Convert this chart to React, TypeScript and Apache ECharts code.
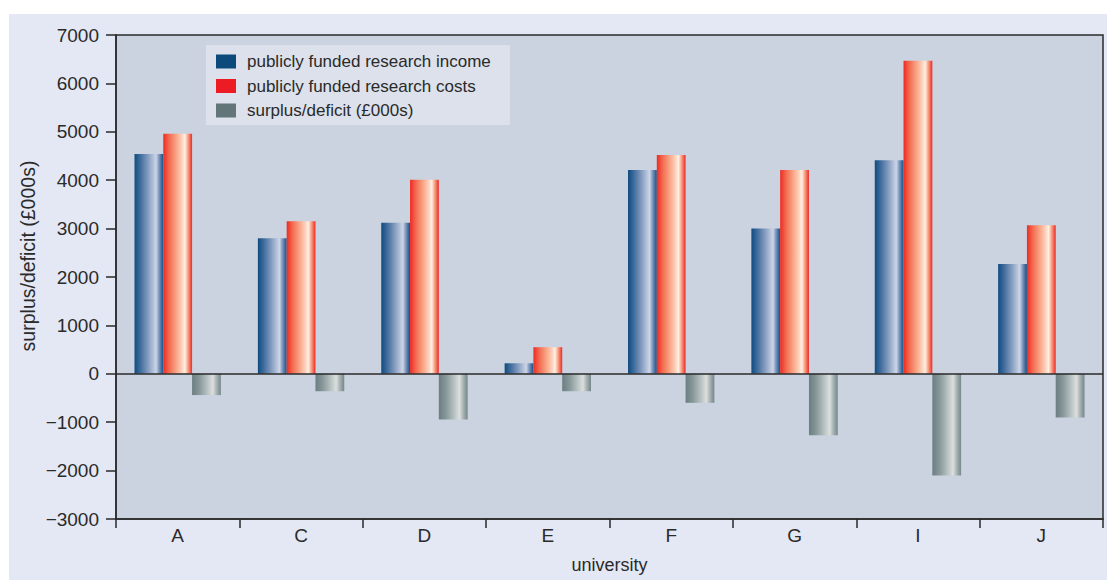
import React, { useEffect, useRef } from "react";
import * as echarts from "echarts";

const universities = ["A", "C", "D", "E", "F", "G", "I", "J"];
const researchIncome = [4540, 2800, 3120, 220, 4210, 3000, 4410, 2270];
const researchCosts = [4960, 3150, 4010, 550, 4520, 4210, 6470, 3070];
const surplusDeficit = [-440, -360, -945, -360, -600, -1270, -2100, -905];
const seriesNames = [
  "publicly funded research income",
  "publicly funded research costs",
  "surplus/deficit (£000s)",
];

const FONT = "'Liberation Sans', Arial, sans-serif";
const TEXT = "#2a2a2a";

const grad = (stops: [number, string][]) =>
  new echarts.graphic.LinearGradient(
    0, 0, 1, 0,
    stops.map(([offset, color]) => ({ offset, color }))
  );

const blueGrad = () =>
  grad([
    [0, "#0f4c80"],
    [0.2, "#3f6b9c"],
    [0.45, "#7f98bd"],
    [0.65, "#b3c1d9"],
    [0.75, "#cdd5e6"],
    [0.85, "#7d97be"],
    [1, "#134f86"],
  ]);
const redGrad = () =>
  grad([
    [0, "#ee2a22"],
    [0.2, "#f36a50"],
    [0.45, "#f9a585"],
    [0.65, "#fdd2bd"],
    [0.75, "#fff0e6"],
    [0.85, "#f9a688"],
    [1, "#ec2a26"],
  ]);
const grayGrad = () =>
  grad([
    [0, "#6b7e81"],
    [0.25, "#87979a"],
    [0.5, "#b2bdbd"],
    [0.72, "#dcdfde"],
    [0.85, "#a7b2b2"],
    [1, "#74878a"],
  ]);

const legendColors = ["#0c4a7c", "#ed1c24", "#62767a"];

export default function App() {
  const ref = useRef<HTMLDivElement>(null);

  useEffect(() => {
    if (!ref.current) return;
    const chart = echarts.init(ref.current, undefined, { renderer: "svg" });
    const minus = (v: number) => String(v).replace("-", "\u2212");

    chart.setOption({
      animation: false,
      textStyle: { fontFamily: FONT },
      grid: {
        left: 116,
        top: 35,
        right: 4,
        bottom: 61,
        show: true,
        backgroundColor: "#cbd3e0",
        borderColor: "#2a2a2a",
        borderWidth: 1.5,
      },
      legend: {
        orient: "vertical",
        left: 206,
        top: 45,
        backgroundColor: "#dce1eb",
        padding: [8, 19, 6, 10],
        itemWidth: 20,
        itemHeight: 14,
        itemGap: 7.5,
        icon: "rect",
        textStyle: {
          fontFamily: FONT,
          fontSize: 17,
          color: TEXT,
          padding: [0, 0, 0, 6],
        },
        data: seriesNames.map((name, i) => ({
          name,
          itemStyle: { color: legendColors[i] },
        })),
      },
      xAxis: {
        type: "category",
        data: universities,
        name: "university",
        nameLocation: "middle",
        nameGap: 37,
        nameTextStyle: { fontFamily: FONT, fontSize: 18, color: TEXT },
        axisLine: { onZero: false, lineStyle: { color: "#2a2a2a", width: 1.5 } },
        axisTick: { show: true, length: 9, lineStyle: { color: "#2a2a2a", width: 1.5 } },
        axisLabel: { fontFamily: FONT, fontSize: 19, color: TEXT, margin: 7 },
      },
      yAxis: {
        type: "value",
        min: -3000,
        max: 7000,
        interval: 1000,
        axisLine: { show: true, lineStyle: { color: "#2a2a2a", width: 1.5 } },
        axisTick: { show: true, length: 10, lineStyle: { color: "#2a2a2a", width: 1.5 } },
        splitLine: { show: false },
        axisLabel: {
          fontFamily: FONT,
          fontSize: 19,
          color: TEXT,
          margin: 17,
          formatter: (v: number) => minus(v),
        },
      },
      graphic: [
        {
          type: "text",
          x: 28,
          y: 256,
          rotation: Math.PI / 2,
          style: {
            text: "surplus/deficit (£000s)",
            fontFamily: FONT,
            fontSize: 19.5,
            fill: TEXT,
            textAlign: "center",
            textVerticalAlign: "middle",
          },
        },
      ],
      series: [
        {
          name: seriesNames[0],
          type: "bar",
          data: researchIncome,
          barGap: "0%",
          barCategoryGap: "30%",
          itemStyle: { color: blueGrad() },
          markLine: {
            silent: true,
            symbol: "none",
            label: { show: false },
            lineStyle: { color: "#2a2a2a", width: 1.5, type: "solid" },
            data: [{ yAxis: 0 }],
          },
        },
        {
          name: seriesNames[1],
          type: "bar",
          data: researchCosts,
          barGap: "0%",
          barCategoryGap: "30%",
          itemStyle: { color: redGrad() },
        },
        {
          name: seriesNames[2],
          type: "bar",
          data: surplusDeficit,
          barGap: "0%",
          barCategoryGap: "30%",
          itemStyle: { color: grayGrad() },
        },
      ],
    });
    return () => chart.dispose();
  }, []);

  return (
    <div style={{ position: "absolute", left: 0, top: 0, width: 1107, height: 580, background: "#ffffff" }}>
      <div
        style={{
          position: "absolute",
          left: 9,
          top: 14,
          width: 1098,
          height: 566,
          background: "#e4e8f4",
        }}
      />
      <div ref={ref} style={{ position: "absolute", left: 0, top: 0, width: 1107, height: 580 }} />
    </div>
  );
}
